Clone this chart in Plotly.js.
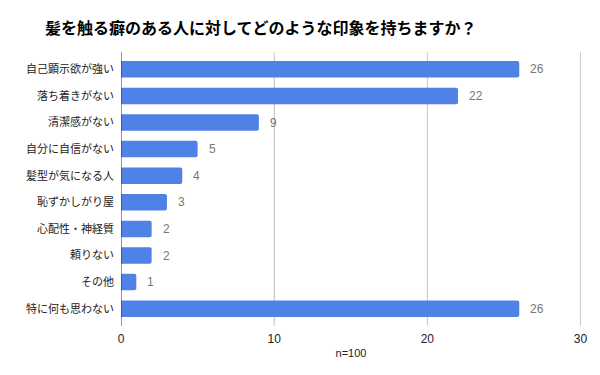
<!DOCTYPE html>
<html><head><meta charset="utf-8">
<script src="https://cdn.plot.ly/plotly-3.0.1.min.js"></script>
<style>body{margin:0;background:#fff}#c{width:600px;height:375px}</style>
</head><body><div id="c"></div>
<script>
const categories = ["自己顕示欲が強い","落ち着きがない","清潔感がない","自分に自信がない","髪型が気になる人","恥ずかしがり屋","心配性・神経質","頼りない","その他","特に何も思わない"];
const values = [26,22,9,5,4,3,2,2,1,26];
const xTicks = [0,10,20,30];
const titleText = "髪を触る癖のある人に対してどのような印象を持ちますか？";
const xTitle = "n=100";

const FONT = "Liberation Sans, Arial, 'Noto Sans CJK JP', sans-serif";

const annotations = categories.map((c,i)=>({
  x: values[i], y: c, xref:'x', yref:'y', text: String(values[i]),
  showarrow:false, xanchor:'left', xshift:9,
  font:{family:FONT,size:12,color:'#777777'}
}));

Plotly.newPlot('c',[{
  type:'bar', orientation:'h', x: values, y: categories,
  marker:{color:'#4f81e7', cornerradius:2},
  hoverinfo:'none'
}],{
  width:600,height:375,
  margin:{l:121,r:19,t:56,b:53},
  paper_bgcolor:'#fff', plot_bgcolor:'#fff',
  bargap:0.38,
  title:{text:'<b>'+titleText+'</b>', x:45/600, xanchor:'left', xref:'container', y:0.925, yanchor:'middle', yref:'container',
    font:{family:"'Noto Sans CJK JP', sans-serif", size:16, color:'#000'}},
  xaxis:{range:[0,30.03], tickvals:xTicks, ticktext:xTicks.map(String), showgrid:true, gridcolor:'#cccccc', gridwidth:1,
    zeroline:false, showline:false, ticks:'', ticklabelstandoff:8, tickfont:{family:FONT,size:12,color:'#222'},
    title:{text:xTitle, font:{family:FONT,size:11,color:'#222'}, standoff:4}},
  yaxis:{autorange:'reversed', showgrid:false, zeroline:false, showline:false, ticks:'', ticklabelstandoff:6,
    tickfont:{family:"'Noto Sans CJK JP', sans-serif",size:11,color:'#222'}},
  shapes:[
    {type:'line', xref:'x', yref:'paper', x0:0, x1:0, y0:-0.015, y1:1.015, line:{color:'#333',width:1}},
    {type:'line', xref:'x', yref:'paper', x0:10, x1:10, y0:-0.015, y1:1.015, line:{color:'#cccccc',width:1}, layer:'below'},
    {type:'line', xref:'x', yref:'paper', x0:20, x1:20, y0:-0.015, y1:1.015, line:{color:'#cccccc',width:1}, layer:'below'},
    {type:'line', xref:'x', yref:'paper', x0:30, x1:30, y0:-0.015, y1:1.015, line:{color:'#cccccc',width:1}, layer:'below'}
  ],
  annotations: annotations,
  showlegend:false
},{staticPlot:true});
</script></body></html>
